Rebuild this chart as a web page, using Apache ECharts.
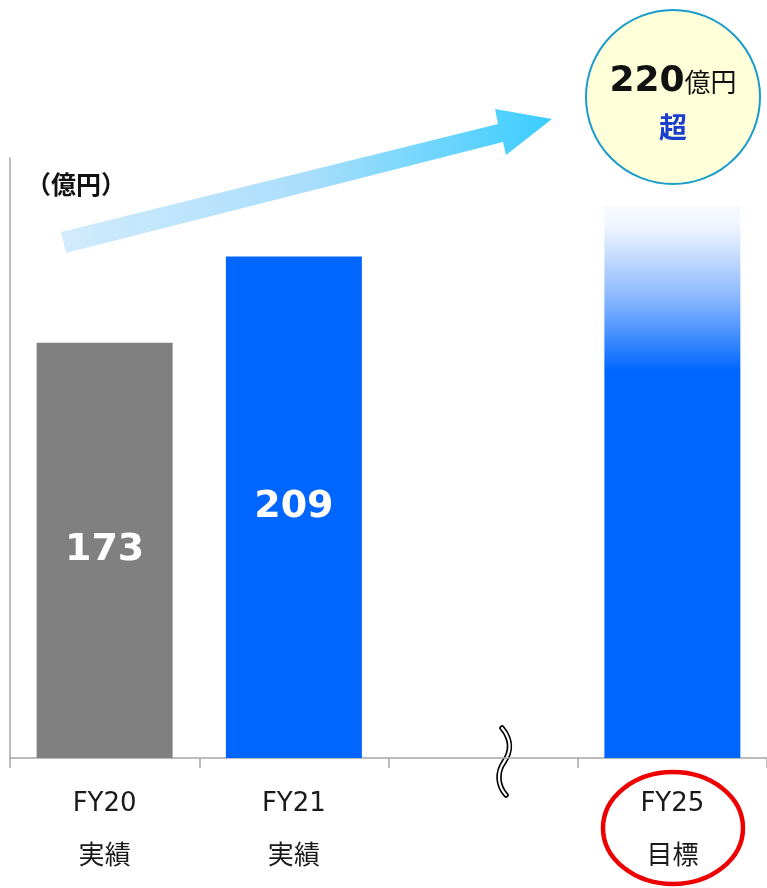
<!DOCTYPE html>
<html>
<head>
<meta charset="utf-8">
<script src="https://cdn.jsdelivr.net/npm/echarts@6/dist/echarts.min.js"></script>
<style>
  html, body { margin: 0; padding: 0; background: #fff; }
  #chart { width: 767px; height: 888px; }
</style>
</head>
<body>
<div id="chart"></div>
<script>
const categories = ['FY20\n実績', 'FY21\n実績', '', 'FY25\n目標'];
const values = [173, 209, null, 230];
const showValue = [true, true, false, false];
const unitLabel = '（億円）';
const targetValue = '220';

const FONT = '"DejaVu Sans", "Noto Sans CJK JP", sans-serif';
const BLUE = '#0066ff';

const barColors = [
  '#808080',
  BLUE,
  BLUE,
  {
    type: 'linear', x: 0, y: 0, x2: 0, y2: 1,
    colorStops: [
      { offset: 0, color: '#f8faff' },
      { offset: 0.04, color: '#eef4ff' },
      { offset: 0.17, color: '#86b6ff' },
      { offset: 0.3, color: BLUE },
      { offset: 1, color: BLUE }
    ]
  }
];

const data = values.map((v, i) => ({
  value: v,
  itemStyle: { color: barColors[i] },
  label: { show: showValue[i] }
}));

// wavy axis-break mark: two cubic segments, drawn black then white for a double line
const breakCurves = [
  { x1: 502, y1: 728, cpx1: 512, cpy1: 740, cpx2: 511, cpy2: 752, x2: 504, y2: 762 },
  { x1: 504, y1: 762, cpx1: 497, cpy1: 772, cpx2: 497, cpy2: 785, x2: 506, y2: 795 }
];
const breakGraphics = [];
[['#000', 5.5], ['#fff', 2.2]].forEach(([c, w]) => {
  breakCurves.forEach(s => breakGraphics.push({
    type: 'bezierCurve', shape: s, style: { fill: null, stroke: c, lineWidth: w, lineCap: 'round' }
  }));
});

const chart = echarts.init(document.getElementById('chart'));
chart.setOption({
  animation: false,
  grid: { left: 10, top: 158, width: 760, bottom: 130, containLabel: false },
  xAxis: {
    type: 'category',
    data: categories,
    axisLine: { lineStyle: { color: '#a6a6a6', width: 1.5 } },
    axisTick: { show: true, length: 10, lineStyle: { color: '#a6a6a6', width: 1.5 } },
    axisLabel: {
      color: '#1a1a1a',
      fontFamily: FONT,
      fontSize: 26,
      lineHeight: 53,
      margin: 20,
      interval: 0
    }
  },
  yAxis: {
    type: 'value',
    min: 0,
    max: 250,
    axisLine: { show: true, lineStyle: { color: '#a6a6a6', width: 1.5 } },
    axisTick: { show: false },
    axisLabel: { show: false },
    splitLine: { show: false }
  },
  series: [{
    type: 'bar',
    barWidth: 136,
    data: data,
    label: {
      position: 'inside',
      color: '#fff',
      fontFamily: FONT,
      fontWeight: 'bold',
      fontSize: 38
    }
  }],
  graphic: [
    {
      type: 'text', x: 26, y: 172,
      style: { text: unitLabel, font: 'bold 25px "Noto Sans CJK JP", sans-serif', fill: '#111' }
    },
    {
      type: 'polygon',
      shape: {
        points: [[61, 232], [498, 124], [495, 109], [552, 119], [506, 155], [503, 142], [66, 253]]
      },
      style: {
        fill: {
          type: 'linear', x: 0, y: 0, x2: 1, y2: 0,
          colorStops: [
            { offset: 0, color: '#d2ebfc' },
            { offset: 0.5, color: '#aadefb' },
            { offset: 1, color: '#3acdff' }
          ]
        }
      }
    },
    {
      type: 'circle',
      shape: { cx: 673, cy: 97, r: 87 },
      style: { fill: '#ffffd9', stroke: '#1b9ccc', lineWidth: 2 }
    },
    {
      type: 'text', x: 673, y: 82,
      style: {
        text: '{a|' + targetValue + '}{b|億円}',
        align: 'center', verticalAlign: 'middle',
        rich: {
          a: { font: 'bold 36px "DejaVu Sans", sans-serif', fill: '#111' },
          b: { font: '26px "Noto Sans CJK JP", sans-serif', fill: '#111' }
        }
      }
    },
    {
      type: 'text', x: 673, y: 127,
      style: {
        text: '超', align: 'center', verticalAlign: 'middle',
        font: 'bold 28px "Noto Sans CJK JP", sans-serif', fill: '#1a3fd0'
      }
    },
    ...breakGraphics,
    {
      type: 'ellipse',
      shape: { cx: 673, cy: 828, rx: 70, ry: 56 },
      style: { fill: null, stroke: '#ee0000', lineWidth: 4.5 }
    }
  ]
});
</script>
</body>
</html>
